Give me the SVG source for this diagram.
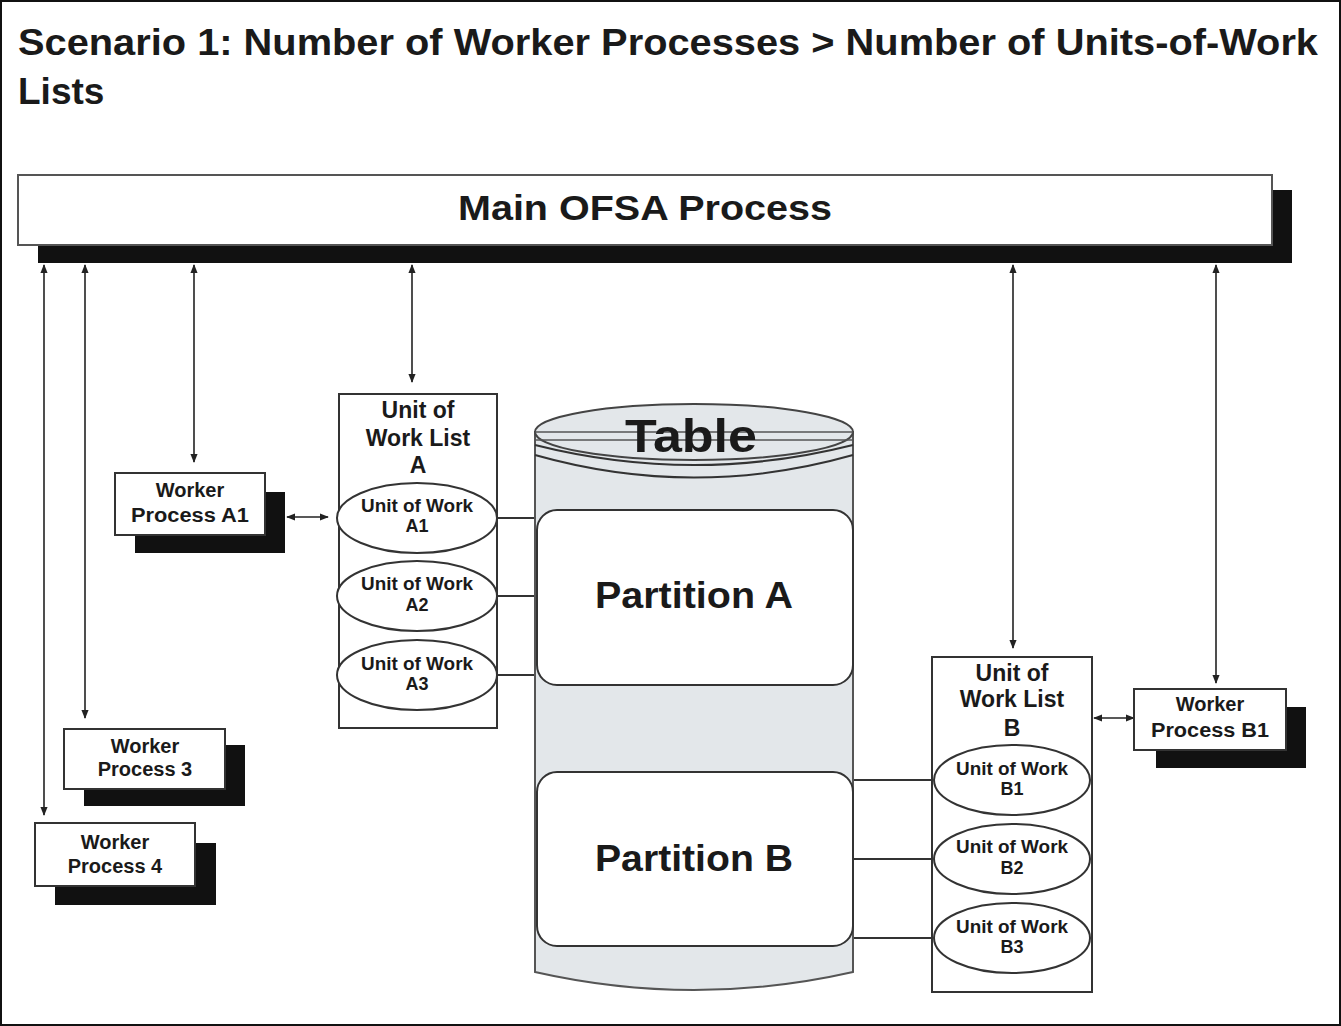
<svg xmlns="http://www.w3.org/2000/svg" width="1341" height="1026" viewBox="0 0 1341 1026">
<defs>
<marker id="ah" viewBox="0 0 10 10" refX="9" refY="5" markerWidth="9" markerHeight="9" markerUnits="userSpaceOnUse" orient="auto-start-reverse"><path d="M0,1 L10,5 L0,9 z" fill="#222"/></marker>
</defs>
<style>
text{font-family:"Liberation Sans",Arial,sans-serif;fill:#1a1a1a;text-anchor:middle}
.t{font-weight:bold;font-size:20px}
.u{font-weight:bold;font-size:18px}
.l{font-weight:bold;font-size:23px}
.box{fill:#fff;stroke:#333;stroke-width:2}
.sh{fill:#111}
.ell{fill:#fff;stroke:#333;stroke-width:2}
.ln{stroke:#333;stroke-width:2;fill:none}
.ar{stroke:#222;stroke-width:1.6;fill:none;marker-start:url(#ah);marker-end:url(#ah)}
</style>
<rect x="1" y="1" width="1339" height="1024" fill="#fff" stroke="#111" stroke-width="2"/>
<text x="18" y="55" textLength="1300" lengthAdjust="spacingAndGlyphs" style="font-size:37px;text-anchor:start;font-weight:bold">Scenario 1: Number of Worker Processes &gt; Number of Units-of-Work</text>
<text x="18" y="104" style="font-size:37px;text-anchor:start;font-weight:bold">Lists</text>

<g id="main">
<rect class="sh" x="38" y="190" width="1254" height="73"/>
<rect x="18" y="175" width="1254" height="70" fill="#fff" stroke="#555" stroke-width="2"/>
<text x="645" y="220" textLength="374" lengthAdjust="spacingAndGlyphs" style="font-size:35px;font-weight:bold">Main OFSA Process</text>
</g>

<g id="connectors">
<line class="ar" x1="44" y1="265" x2="44" y2="815"/>
<line class="ar" x1="85" y1="265" x2="85" y2="718"/>
<line class="ar" x1="194" y1="265" x2="194" y2="462"/>
<line class="ar" x1="412" y1="265" x2="412" y2="382"/>
<line class="ar" x1="1013" y1="265" x2="1013" y2="648"/>
<line class="ar" x1="1216" y1="265" x2="1216" y2="683"/>
<line class="ar" x1="287" y1="517" x2="328" y2="517"/>
<line class="ar" x1="1094" y1="718" x2="1134" y2="718"/>
<line class="ln" x1="497" y1="518" x2="537" y2="518"/>
<line class="ln" x1="497" y1="596" x2="537" y2="596"/>
<line class="ln" x1="497" y1="675" x2="537" y2="675"/>
<line class="ln" x1="853" y1="780" x2="934" y2="780"/>
<line class="ln" x1="853" y1="859" x2="934" y2="859"/>
<line class="ln" x1="853" y1="938" x2="934" y2="938"/>
</g>

<g id="table">
<path d="M535,432 L535,972 Q694,1008 853,972 L853,432 Z" fill="#e3e7ea" stroke="#555" stroke-width="2"/>
<ellipse cx="694" cy="432" rx="159" ry="28" fill="#e3e7ea" stroke="#444" stroke-width="2"/>
<path d="M535,445 Q694,485 853,445" class="ln"/>
<path d="M535,455 Q694,500 853,455" class="ln"/>
<line x1="535" y1="432" x2="853" y2="432" stroke="#555" stroke-width="1.5"/>
<line x1="535" y1="440" x2="853" y2="440" stroke="#555" stroke-width="1.5"/>
<text x="691" y="452" textLength="132" lengthAdjust="spacingAndGlyphs" style="font-size:46px;font-weight:bold">Table</text>
</g>

<g id="partitionA">
<rect x="537" y="510" width="316" height="175" rx="20" class="box"/>
<text x="694" y="608" textLength="198" lengthAdjust="spacingAndGlyphs" style="font-size:37px;font-weight:bold">Partition A</text>
</g>
<g id="partitionB">
<rect x="537" y="772" width="316" height="174" rx="20" class="box"/>
<text x="694" y="871" textLength="198" lengthAdjust="spacingAndGlyphs" style="font-size:37px;font-weight:bold">Partition B</text>
</g>

<g id="listA">
<rect x="339" y="394" width="158" height="334" class="box"/>
<text class="l" x="418" y="418">Unit of</text>
<text class="l" x="418" y="446">Work List</text>
<text class="l" x="418" y="473">A</text>
</g>
<g id="uowA1"><ellipse class="ell" cx="417" cy="518" rx="80" ry="35"/><text class="u" x="417" y="512" textLength="112" lengthAdjust="spacingAndGlyphs">Unit of Work</text><text class="u" x="417" y="532">A1</text></g>
<g id="uowA2"><ellipse class="ell" cx="417" cy="596" rx="80" ry="35"/><text class="u" x="417" y="590" textLength="112" lengthAdjust="spacingAndGlyphs">Unit of Work</text><text class="u" x="417" y="611">A2</text></g>
<g id="uowA3"><ellipse class="ell" cx="417" cy="675" rx="80" ry="35"/><text class="u" x="417" y="670" textLength="112" lengthAdjust="spacingAndGlyphs">Unit of Work</text><text class="u" x="417" y="690">A3</text></g>

<g id="listB">
<rect x="932" y="657" width="160" height="335" class="box"/>
<text class="l" x="1012" y="681">Unit of</text>
<text class="l" x="1012" y="707">Work List</text>
<text class="l" x="1012" y="736">B</text>
</g>
<g id="uowB1"><ellipse class="ell" cx="1012" cy="780" rx="78" ry="35"/><text class="u" x="1012" y="775" textLength="112" lengthAdjust="spacingAndGlyphs">Unit of Work</text><text class="u" x="1012" y="795">B1</text></g>
<g id="uowB2"><ellipse class="ell" cx="1012" cy="859" rx="78" ry="35"/><text class="u" x="1012" y="853" textLength="112" lengthAdjust="spacingAndGlyphs">Unit of Work</text><text class="u" x="1012" y="874">B2</text></g>
<g id="uowB3"><ellipse class="ell" cx="1012" cy="938" rx="78" ry="35"/><text class="u" x="1012" y="933" textLength="112" lengthAdjust="spacingAndGlyphs">Unit of Work</text><text class="u" x="1012" y="953">B3</text></g>

<g id="workerA1">
<rect class="sh" x="135" y="492" width="150" height="61"/>
<rect class="box" x="115" y="473" width="150" height="62"/>
<text class="t" x="190" y="497">Worker</text><text class="t" x="190" y="522" textLength="118" lengthAdjust="spacingAndGlyphs">Process A1</text>
</g>
<g id="workerB1">
<rect class="sh" x="1156" y="707" width="150" height="61"/>
<rect class="box" x="1134" y="689" width="152" height="61"/>
<text class="t" x="1210" y="711">Worker</text><text class="t" x="1210" y="737" textLength="118" lengthAdjust="spacingAndGlyphs">Process B1</text>
</g>
<g id="worker3">
<rect class="sh" x="84" y="745" width="161" height="61"/>
<rect class="box" x="64" y="729" width="161" height="60"/>
<text class="t" x="145" y="753">Worker</text><text class="t" x="145" y="776">Process 3</text>
</g>
<g id="worker4">
<rect class="sh" x="55" y="843" width="161" height="62"/>
<rect class="box" x="35" y="823" width="160" height="63"/>
<text class="t" x="115" y="849">Worker</text><text class="t" x="115" y="873">Process 4</text>
</g>
</svg>
